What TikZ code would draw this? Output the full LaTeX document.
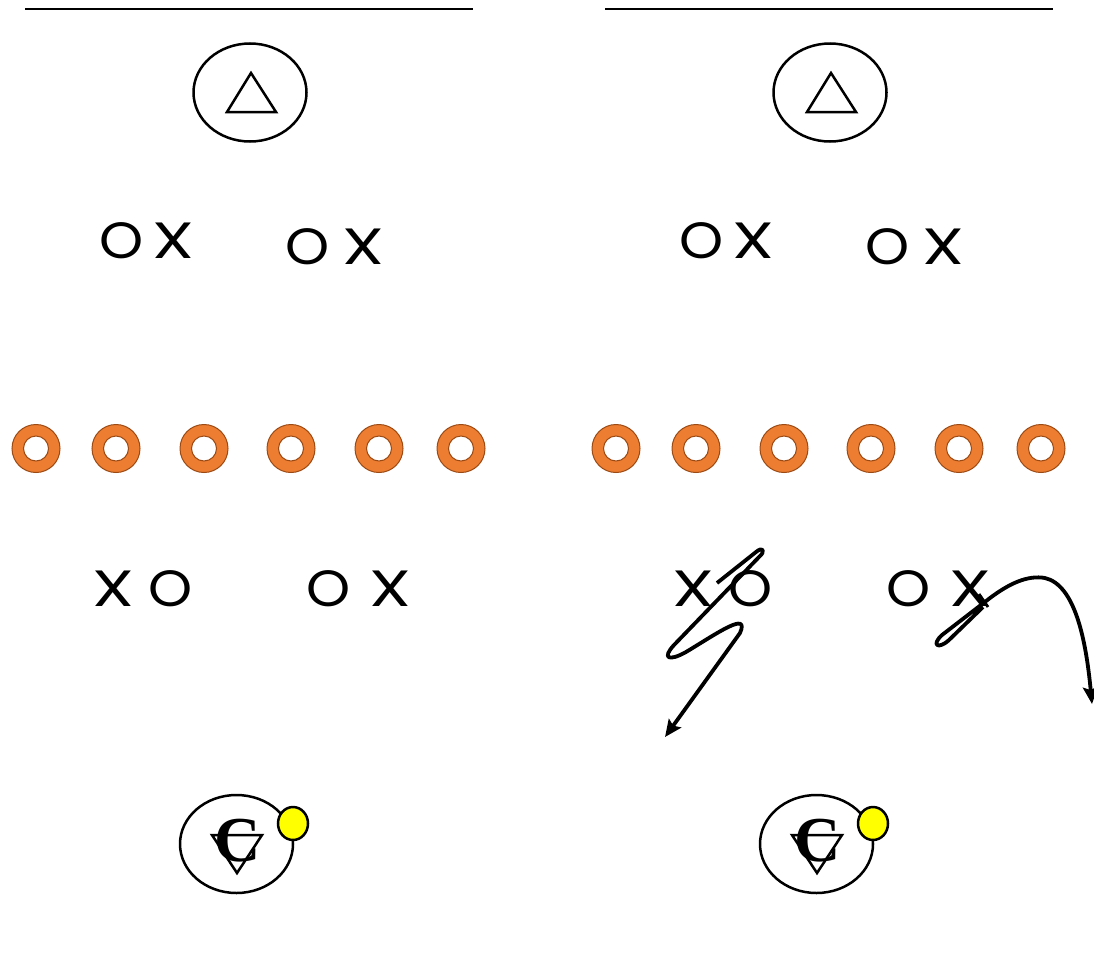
\documentclass[tikz,border=0pt]{standalone}
\usepackage{fontspec}
\newfontfamily\geo{Poppins}
\newfontfamily\timesf{Liberation Serif}
\usetikzlibrary{arrows.meta}
\definecolor{ringorange}{HTML}{ED7D31}
\definecolor{ringedge}{HTML}{9C4A14}
\definecolor{ballyellow}{HTML}{FFFF00}
\newcommand{\wideX}{\scalebox{1.32}[1]{X}}
\newcommand{\wideO}{\scalebox{1.1}[1]{O}}
\tikzset{
  letter/.style={inner sep=0pt, font=\geo\fontsize{51}{51}\selectfont},
  player/.style={draw, line width=2.5pt, ellipse, minimum width=113pt, minimum height=98pt, inner sep=0pt},
  route/.style={line width=3.8pt, -{Stealth[length=17pt,width=15pt,inset=3pt]}},
  ringfill/.style={fill=ringorange, even odd rule},
  ringline/.style={draw=ringedge, line width=1pt},
}
\usetikzlibrary{shapes.geometric}
\begin{document}
\begin{tikzpicture}[x=1pt,y=-1pt]
\useasboundingbox (0,0) rectangle (1094,953);
\foreach \dx/\s in {0/L,580/R}{
  \begin{scope}[xshift=\dx pt]
  % top line
  \draw[line width=2.8pt] (25,9) -- (473,9);
  % top ellipse with triangle
  \node[player] (top\s) at (250,92.5) {};
  \draw[line width=2.5pt, line join=miter] (251,73) -- (276,112) -- (227,112) -- cycle;
  % top O X pairs
  \node[letter] (o1\s) at (122,241) {\wideO};
  \node[letter] (x1\s) at (173.5,240.5) {\wideX};
  \node[letter] (o2\s) at (307.5,247) {\wideO};
  \node[letter] (x2\s) at (363.5,246.5) {\wideX};
  % rings
  \foreach \cx in {36,116,204,291,379,461}{
    \fill[ringfill] (\cx,448.5) circle (24) (\cx,448.5) circle (12.5);
    \draw[ringline] (\cx,448.5) circle (24) (\cx,448.5) circle (12.5);
  }
  % bottom X O pairs
  \node[letter] (x3\s) at (113.5,589) {\wideX};
  \node[letter] (o3\s) at (171,589) {\wideO};
  \node[letter] (o4\s) at (329,589) {\wideO};
  \node[letter] (x4\s) at (390,589) {\wideX};
  % bottom ellipse
  \node[player] (bot\s) at (236.5,844) {};
  \draw[line width=2.5pt, line join=miter] (212,835) -- (262,835) -- (237,873) -- cycle;
  \node[inner sep=0pt, font=\timesf\bfseries\fontsize{64}{64}\selectfont] (c\s) at (238,840.5) {C};
  \node[draw, line width=2.5pt, fill=ballyellow, ellipse, minimum width=30pt, minimum height=33pt, inner sep=0pt] (ball\s) at (293,823.5) {};
  \end{scope}
}
% routes (right panel)
\coordinate (r1s) at (717,583);
\coordinate (r1e) at (665,737);
\draw[route, line join=round] (r1s) -- (756,552) .. controls (763,546) and (766,551) .. (759,557)
  -- (674,645) .. controls (662,658) and (668,662) .. (686,652)
  .. controls (716,634) and (750,610) .. (740,633) -- (r1e);
\coordinate (r2s) at (983,607);
\coordinate (r2e) at (1092,704);
\draw[route, line join=round] (r2s) -- (949,640) .. controls (938,650) and (931,645) .. (942,635)
  -- (990,598) .. controls (1010,583) and (1028,575) .. (1045,578)
  .. controls (1075,585) and (1086,640) .. (r2e);
\draw[line width=2.8pt] (979,594) -- (988,607);
\end{tikzpicture}
\end{document}
